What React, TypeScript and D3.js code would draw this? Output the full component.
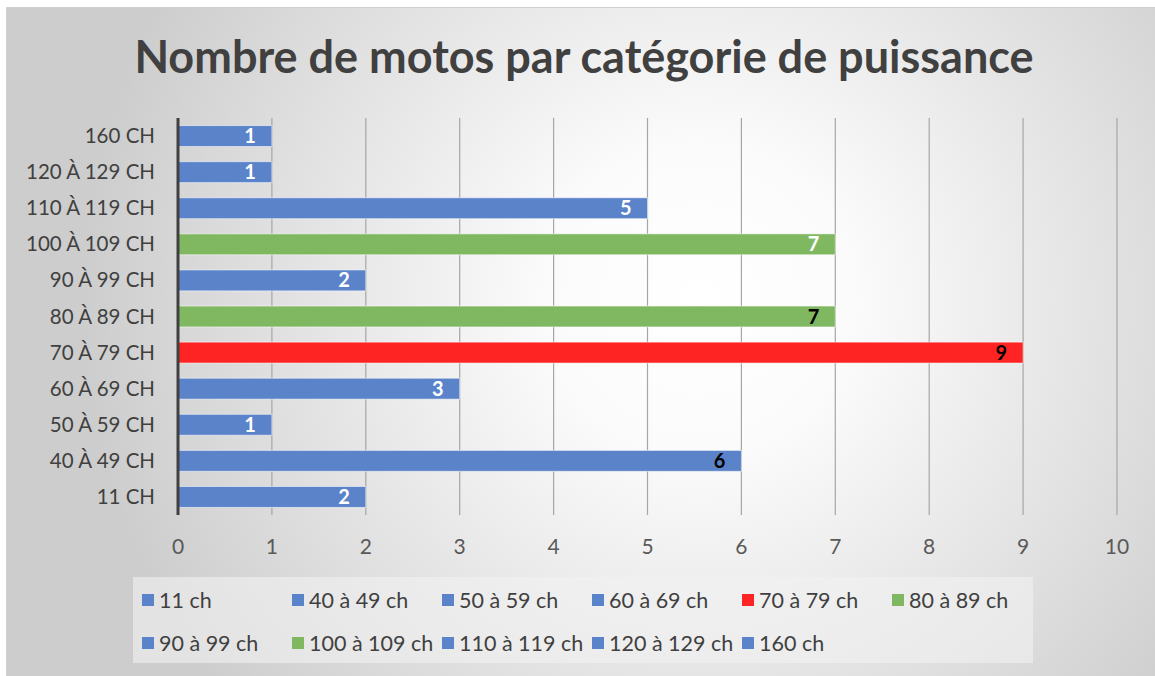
import React from "react";
import * as d3 from "d3";

const categories = ["160 CH", "120 À 129 CH", "110 À 119 CH", "100 À 109 CH", "90 À 99 CH", "80 À 89 CH", "70 À 79 CH", "60 À 69 CH", "50 À 59 CH", "40 À 49 CH", "11 CH"];
const values = [1, 1, 5, 7, 2, 7, 9, 3, 1, 6, 2];
const barColors = ["blue", "blue", "blue", "green", "blue", "green", "red", "blue", "blue", "blue", "blue"];
const labelDark = [false, false, false, false, false, true, true, false, false, true, false];
const xTicks = [0, 1, 2, 3, 4, 5, 6, 7, 8, 9, 10];
const legendLabels = ["11 ch", "40 à 49 ch", "50 à 59 ch", "60 à 69 ch", "70 à 79 ch", "80 à 89 ch", "90 à 99 ch", "100 à 109 ch", "110 à 119 ch", "120 à 129 ch", "160 ch"];
const legendColors = ["blue", "blue", "blue", "blue", "red", "green", "blue", "green", "blue", "blue", "blue"];
const title = "Nombre de motos par catégorie de puissance";

const palette: Record<string, string> = { blue: "#5b83c9", green: "#80b862", red: "#ff2424" };
const FONT = "Lato, 'Open Sans', sans-serif";

export default function App() {
  const W = 1155, H = 676;
  const x = d3.scaleLinear().domain([0, 10]).range([178, 1117]);
  const y = d3.scaleBand<string>().domain(categories).range([118, 515]).paddingInner(0.42).paddingOuter(0.21);

  return (
    <svg width={W} height={H} style={{ position: "absolute", left: 0, top: 0 }} fontFamily={FONT}>
      <defs>
        <radialGradient id="bg" cx="700" cy="300" r="620" gradientUnits="userSpaceOnUse">
          <stop offset="0" stopColor="#ffffff" />
          <stop offset="0.25" stopColor="#fbfbfb" />
          <stop offset="1" stopColor="#cdcdcd" />
        </radialGradient>
      </defs>
      <rect x={0} y={0} width={W} height={H} fill="#ffffff" />
      <rect x={6.5} y={7.5} width={W - 6} height={H - 7} fill="url(#bg)" stroke="#d0d0d0" strokeWidth={1} />
      <text x={584} y={73} textAnchor="middle" fontSize={45} fontWeight={700} fill="#404040">{title}</text>

      {xTicks.map((t) => (
        <line key={"g" + t} x1={x(t)} x2={x(t)} y1={118} y2={515} stroke="#a6a6a6" strokeWidth={1.2} />
      ))}
      {xTicks.map((t) => (
        <text key={"t" + t} x={x(t)} y={554} textAnchor="middle" fontSize={21} fill="#595959">{t}</text>
      ))}

      {categories.map((c, i) => (
        <g key={c}>
          <rect x={x(0)} y={y(c)!} width={x(values[i]) - x(0)} height={y.bandwidth()} fill={palette[barColors[i]]} stroke="rgba(255,255,255,0.55)" strokeWidth={1} />
          <text x={x(values[i]) - 16} y={y(c)! + y.bandwidth() / 2 + 7} textAnchor="end" fontSize={20} fontWeight={700} fill={labelDark[i] ? "#000000" : "#ffffff"}>{values[i]}</text>
          <text x={155} y={y(c)! + y.bandwidth() / 2 + 7} textAnchor="end" fontSize={20.5} fill="#404040">{c}</text>
        </g>
      ))}
      <line x1={x(0)} x2={x(0)} y1={118} y2={515} stroke="#404040" strokeWidth={3} />

      <rect x={133} y={577} width={900} height={86} fill="#f2f2f2" opacity={0.6} />
      {legendLabels.map((l, i) => {
        const row = Math.floor(i / 6);
        const col = i % 6;
        const lx = 142 + col * 150;
        const ly = 600 + row * 43;
        return (
          <g key={l}>
            <rect x={lx} y={ly - 6} width={12} height={12} fill={palette[legendColors[i]]} />
            <text x={lx + 17} y={ly + 8} fontSize={21.5} fill="#404040">{l}</text>
          </g>
        );
      })}
    </svg>
  );
}
